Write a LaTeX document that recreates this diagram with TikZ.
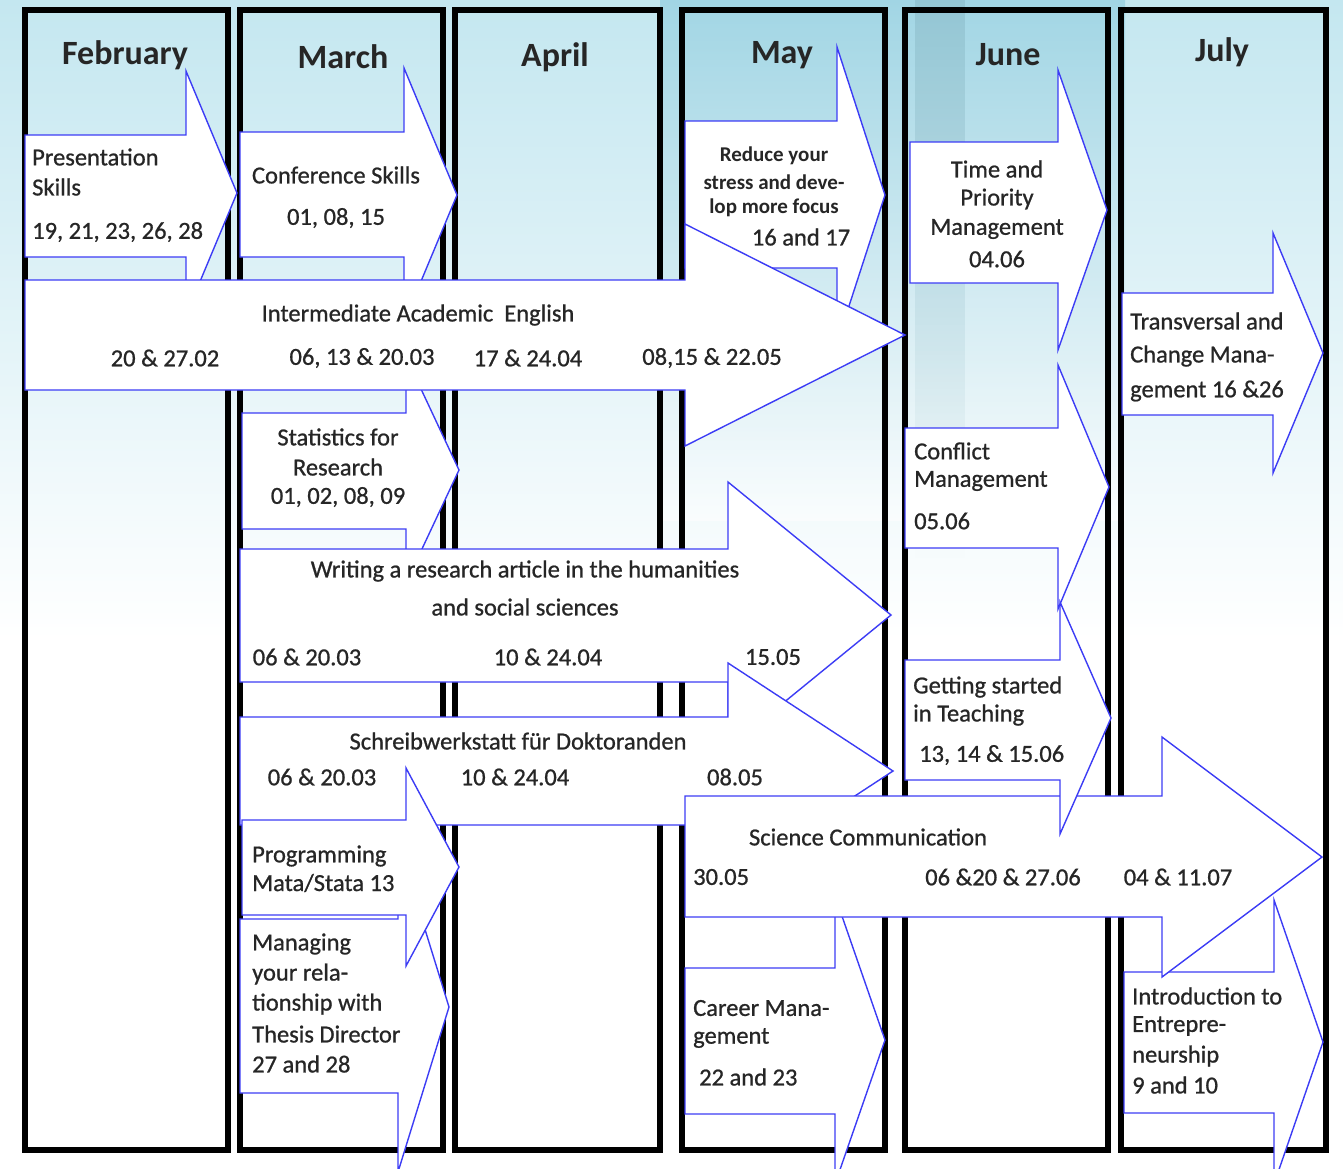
\documentclass[tikz,border=0pt]{standalone}
\usepackage{fontspec}
\setmainfont{Carlito}
\newfontfamily\lblfont{Carlito}[FakeBold=0.8]
\usetikzlibrary{fadings}
\begin{document}
\begin{tikzpicture}[x=1pt,y=-1pt,
  arr/.style={fill=white,draw=arrowblue,line width=1.4pt,line join=miter},
  col/.style={draw=black,line width=5.5pt},
  month/.style={font=\fontsize{34}{38}\selectfont\bfseries,text=black!85},
  lbl/.style={font=\lblfont\fontsize{24.5}{30}\selectfont,text=black!85,inner sep=0pt},
  lblb/.style={font=\fontsize{21}{26}\selectfont\bfseries,text=black!85,inner sep=0pt,align=center}]
\definecolor{arrowblue}{HTML}{3C3CF5}
\definecolor{bgtop}{HTML}{C4E7F0}
\definecolor{bgdark}{HTML}{86C8DB}
\newcommand\blk[7]{\filldraw[arr] (#1,#2) -- (#4,#2) -- (#4,{#6-#7}) -- (#5,#6) -- (#4,{#6+#7}) -- (#4,#3) -- (#1,#3) -- cycle;}
\useasboundingbox (0,0) rectangle (1343,1168);
\clip (0,0) rectangle (1343,1168);
% background
\fill[white] (0,0) rectangle (1343,1168);
\shade[top color=bgtop, bottom color=white] (0,0) rectangle (1343,640);
\shade[top color=bgdark, bottom color=white, opacity=.55] (660,0) rectangle (1125,520);
\fill[bgdark!80!black!90, opacity=.35, path fading=south] (915,0) rectangle (965,560);
% columns
\draw[col] (25,10) rectangle (228,1150);
\draw[col] (240,10) rectangle (443,1150);
\draw[col] (455,10) rectangle (660,1150);
\draw[col] (682,10) rectangle (885,1150);
\draw[col] (905,10) rectangle (1108,1150);
\draw[col] (1121,10) rectangle (1326,1150);
\node[month] (mfeb) at (125,55) {February};
\node[month] (mmar) at (343,57) {March};
\node[month] (mapr) at (555,57) {April};
\node[month] (mmay) at (782,55) {May};
\node[month] (mjun) at (1008,55) {June};
\node[month] (mjul) at (1222,52) {July};
% arrows
\blk{25}{135}{257}{186}{237}{193}{122}
\blk{240}{132}{257}{404}{457}{195}{127}
\blk{242}{413}{529}{406}{459}{470}{113}
\blk{685}{121}{268}{837}{885}{195}{148}
\blk{25}{280}{390}{685}{905}{335}{111}
\blk{240}{549}{682}{728}{891}{615}{133}
\blk{240}{717}{825}{728}{893}{771}{108}
\blk{240}{919}{1093}{398}{449}{1007}{165}
\blk{242}{820}{915}{406}{459}{867}{99}
\blk{685}{968}{1114}{835}{885}{1040}{144}
\blk{1124}{972}{1113}{1274}{1323}{1042}{142}
\blk{685}{796}{917}{1162}{1322}{857}{120}
\blk{910}{142}{283}{1058}{1107}{210}{140}
\blk{905}{428}{548}{1058}{1109}{487}{122}
\blk{905}{660}{780}{1060}{1111}{718}{116}
\blk{1122}{293}{415}{1273}{1323}{353}{120}
% texts
\node[lbl,anchor=west] (t1a) at (32,157) {Presentation};
\node[lbl,anchor=west] (t1b) at (32,187) {Skills};
\node[lbl,anchor=west] (t1c) at (32,232) {19, 21, 23, 26, 28};
\node[lbl] (t2a) at (336,175) {Conference Skills};
\node[lbl] (t2b) at (336,218) {01, 08, 15};
\node[lbl] (t3a) at (338,437) {Statistics for};
\node[lbl] (t3b) at (338,467) {Research};
\node[lbl] (t3c) at (338,497) {01, 02, 08, 09};
\node[lblb] (t4a) at (774,156) {Reduce your};
\node[lblb] (t4b) at (774,182) {stress and deve-};
\node[lblb] (t4c) at (774,208) {lop more focus};
\node[lbl] (t4d) at (801,237) {16 and 17};
\node[lbl] (t5a) at (418,315) {Intermediate Academic\ \ English};
\node[lbl] (t5b) at (165,358) {20 \& 27.02};
\node[lbl] (t5c) at (362,358) {06, 13 \& 20.03};
\node[lbl] (t5d) at (528,358) {17 \& 24.04};
\node[lbl] (t5e) at (712,358) {08,15 \& 22.05};
\node[lbl] (t6a) at (525,571) {Writing a research article in the humanities};
\node[lbl] (t6b) at (525,607) {and social sciences};
\node[lbl] (t6c) at (307,657) {06 \& 20.03};
\node[lbl] (t6d) at (548,657) {10 \& 24.04};
\node[lbl] (t6e) at (773,657) {15.05};
\node[lbl] (t7a) at (518,741) {Schreibwerkstatt für Doktoranden};
\node[lbl] (t7b) at (322,777) {06 \& 20.03};
\node[lbl] (t7c) at (515,777) {10 \& 24.04};
\node[lbl] (t7d) at (735,777) {08.05};
\node[lbl,anchor=west] (t8a) at (252,856) {Programming};
\node[lbl,anchor=west] (t8b) at (252,883) {Mata/Stata 13};
\node[lbl,anchor=west] (t9a) at (252,944) {Managing};
\node[lbl,anchor=west] (t9b) at (252,974) {your rela-};
\node[lbl,anchor=west] (t9c) at (252,1004) {tionship with};
\node[lbl,anchor=west] (t9d) at (252,1034) {Thesis Director};
\node[lbl,anchor=west] (t9e) at (252,1064) {27 and 28};
\node[lbl,anchor=west] (t10a) at (693,1008) {Career Mana-};
\node[lbl,anchor=west] (t10b) at (693,1038) {gement};
\node[lbl,anchor=west] (t10c) at (699,1077) {22 and 23};
\node[lbl,anchor=west] (t11a) at (1132,996) {Introduction to};
\node[lbl,anchor=west] (t11b) at (1132,1026) {Entrepre-};
\node[lbl,anchor=west] (t11c) at (1132,1056) {neurship};
\node[lbl,anchor=west] (t11d) at (1132,1085) {9 and 10};
\node[lbl] (t12a) at (868,837) {Science Communication};
\node[lbl,anchor=west] (t12b) at (693,877) {30.05};
\node[lbl] (t12c) at (1003,877) {06 \&20 \& 27.06};
\node[lbl] (t12d) at (1178,877) {04 \& 11.07};
\node[lbl] (t13a) at (997,169) {Time and};
\node[lbl] (t13b) at (997,199) {Priority};
\node[lbl] (t13c) at (997,229) {Management};
\node[lbl] (t13d) at (997,259) {04.06};
\node[lbl,anchor=west] (t14a) at (914,451) {Conflict};
\node[lbl,anchor=west] (t14b) at (914,481) {Management};
\node[lbl,anchor=west] (t14c) at (914,521) {05.06};
\node[lbl,anchor=west] (t15a) at (913,687) {Getting started};
\node[lbl,anchor=west] (t15b) at (913,715) {in Teaching};
\node[lbl,anchor=west] (t15c) at (919,755) {13, 14 \& 15.06};
\node[lbl,anchor=west] (t16a) at (1130,321) {Transversal and};
\node[lbl,anchor=west] (t16b) at (1130,356) {Change Mana-};
\node[lbl,anchor=west] (t16c) at (1130,391) {gement 16 \&26};
\end{tikzpicture}
\end{document}
